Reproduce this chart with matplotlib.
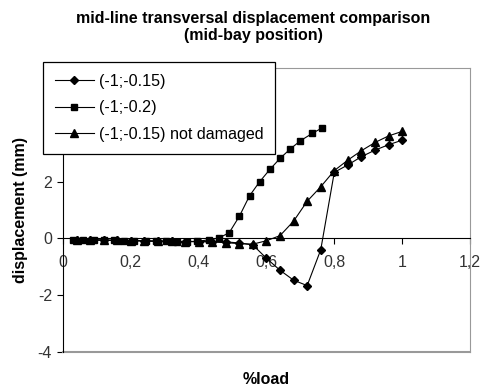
import matplotlib
matplotlib.use('Agg')
import matplotlib.pyplot as plt
from matplotlib.ticker import FuncFormatter

plt.rcParams['font.family'] = ['Liberation Sans', 'DejaVu Sans']

# %load values
x_d = [0.04, 0.08, 0.12, 0.16, 0.20, 0.24, 0.28, 0.32, 0.36, 0.40, 0.44, 0.48, 0.52,
       0.56, 0.60, 0.64, 0.68, 0.72, 0.76, 0.80, 0.84, 0.88, 0.92, 0.96, 1.00]
x_s = [0.03, 0.06, 0.09, 0.12, 0.15, 0.18, 0.21, 0.245, 0.275, 0.305, 0.335, 0.365, 0.395,
       0.43, 0.46, 0.49, 0.52, 0.55, 0.58, 0.61, 0.64, 0.67, 0.70, 0.735, 0.765]

# displacement (mm)
d_015 = [-0.05, -0.05, -0.06, -0.07, -0.08, -0.08, -0.10, -0.10, -0.11, -0.11, -0.12, -0.12, -0.16,
         -0.23, -0.70, -1.12, -1.47, -1.66, -0.40, 2.33, 2.59, 2.88, 3.11, 3.30, 3.46]
d_02 = [-0.04, -0.05, -0.05, -0.06, -0.07, -0.08, -0.08, -0.09, -0.10, -0.10, -0.11, -0.11, -0.10,
        -0.05, 0.02, 0.20, 0.78, 1.50, 2.00, 2.43, 2.82, 3.15, 3.44, 3.70, 3.90]
d_nd = [-0.05, -0.05, -0.06, -0.07, -0.08, -0.08, -0.10, -0.10, -0.11, -0.11, -0.12, -0.15, -0.18,
        -0.20, -0.08, 0.10, 0.61, 1.31, 1.82, 2.39, 2.76, 3.09, 3.38, 3.61, 3.77]

labels = ['(-1;-0.15)', '(-1;-0.2)', '(-1;-0.15) not damaged']

fig = plt.figure(figsize=(4.81, 3.89), dpi=100)
ax = fig.add_axes([0.131, 0.095, 0.846, 0.730])

ax.plot(x_d, d_015, color='black', lw=0.8, marker='D', ms=4.2, label=labels[0])
ax.plot(x_s, d_02, color='black', lw=0.8, marker='s', ms=4.5, label=labels[1])
ax.plot(x_d, d_nd, color='black', lw=0.8, marker='^', ms=5.5, label=labels[2])

ax.set_xlim(0, 1.2)
ax.set_ylim(-4, 6)
ax.set_xticks([0, 0.2, 0.4, 0.6, 0.8, 1.0, 1.2])
ax.set_yticks([-4, -2, 0, 2, 4, 6])
fmt = FuncFormatter(lambda v, p: ('%g' % v).replace('.', ','))
ax.xaxis.set_major_formatter(fmt)
ax.yaxis.set_major_formatter(fmt)

ax.spines['bottom'].set_position(('data', 0))
ax.spines['bottom'].set_color('black')
ax.spines['left'].set_color('black')
ax.spines['top'].set_color('#999999')
ax.spines['right'].set_color('#999999')
ax.axhline(-4, color='#999999', lw=1.5, clip_on=False)
ax.tick_params(axis='both', direction='out', length=4, width=0.8, labelsize=11.5,
               labelcolor='#333333')
ax.tick_params(axis='x', pad=8)
ax.tick_params(axis='y', pad=4)

fig.text(0.526, 1 - 11 / 389, 'mid-line transversal displacement comparison\n(mid-bay position)',
         fontsize=11.5, fontweight='bold', ha='center', va='top', linespacing=1.2)
ax.set_ylabel('displacement (mm)', fontsize=11.5, fontweight='bold', labelpad=7)
fig.text(0.553, 0.005, '%load', fontsize=11.5, fontweight='bold', ha='center', va='bottom')

leg = fig.legend(loc='upper left', bbox_to_anchor=(0.0894, 0.8406), fontsize=11.6,
                 frameon=True, fancybox=False, edgecolor='black', framealpha=1,
                 handlelength=2.4, handletextpad=0.3, labelspacing=0.7, borderpad=0.75,
                 borderaxespad=0)
leg.get_frame().set_linewidth(0.9)

fig.savefig('out.png', dpi=100)
